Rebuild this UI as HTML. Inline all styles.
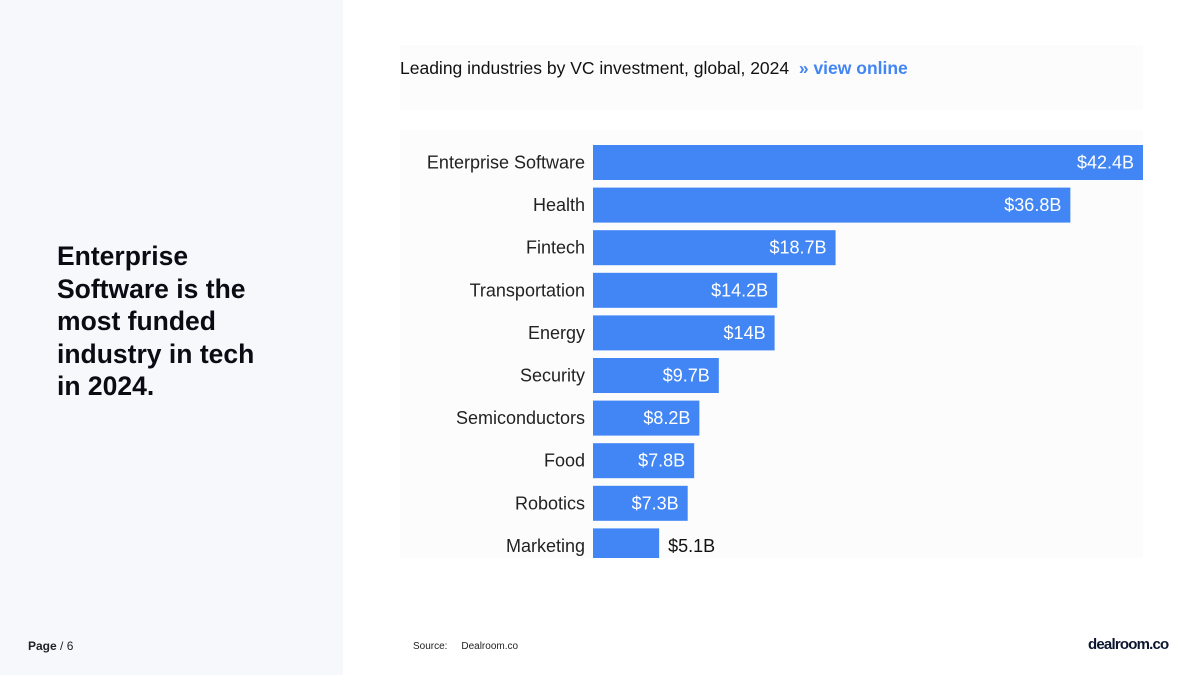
<!DOCTYPE html>
<html><head><meta charset="utf-8"><style>
body{margin:0;width:1200px;height:675px;position:relative;background:#fff;font-family:"Liberation Sans",sans-serif;overflow:hidden}
#left{position:absolute;left:0;top:0;width:343px;height:675px;background:#f7f8fc}
#headline{position:absolute;left:57px;top:240px;font-weight:bold;font-size:26.5px;line-height:32.5px;color:#0b0b14;width:215px}
#page{position:absolute;left:28px;top:639px;font-size:12px;color:#222}
#titlebg{position:absolute;left:400px;top:45px;width:743px;height:65px;background:#fcfcfd}
#chartbg{position:absolute;left:400px;top:130px;width:743px;height:428px;background:#fcfcfd}
#title{position:absolute;left:400px;top:58px;font-size:17.5px;color:#111}
#title b{color:#4285f4}
#source{position:absolute;left:413px;top:641px;font-size:10px;color:#222}
#logo{position:absolute;left:1088px;top:636px;font-size:15px;font-weight:bold;color:#0c1630;letter-spacing:-0.8px}
</style></head><body>
<div id="left"></div>
<div id="headline">Enterprise Software is the most funded industry in tech in 2024.</div>
<div id="page"><b>Page</b> / 6</div>
<div id="titlebg"></div>
<div id="chartbg"></div>
<div id="title">Leading industries by VC investment, global, 2024 &nbsp;<b>» view online</b></div>
<svg id="chart" width="1200" height="675" style="position:absolute;left:0;top:0">
<defs><clipPath id="clip"><rect x="400" y="130" width="743" height="428"/></clipPath></defs>
<g id="bars" clip-path="url(#clip)"></g>
</svg>
<div id="source">Source:&nbsp;&nbsp;&nbsp;&nbsp; Dealroom.co</div>
<div id="logo">dealroom.co</div>
<script>
const categories=["Enterprise Software","Health","Fintech","Transportation","Energy","Security","Semiconductors","Food","Robotics","Marketing"];
const values=[42.4,36.8,18.7,14.2,14,9.7,8.2,7.8,7.3,5.1];
const valueLabels=["$42.4B","$36.8B","$18.7B","$14.2B","$14B","$9.7B","$8.2B","$7.8B","$7.3B","$5.1B"];
const svg=document.getElementById('bars');
const NS='http://www.w3.org/2000/svg';
const x0=593,xMax=1143,maxV=42.4;
const xs=v=>x0+(v/maxV)*(xMax-x0);
const yTop=145,step=42.6,bh=35;
const ys=i=>yTop+i*step;
categories.forEach((c,i)=>{
  const y=ys(i),w=xs(values[i])-x0;
  const r=document.createElementNS(NS,'rect');
  r.setAttribute('x',x0);r.setAttribute('y',y);r.setAttribute('width',w);r.setAttribute('height',bh);r.setAttribute('fill','#4285f4');
  
  
  svg.appendChild(r);
  const t=document.createElementNS(NS,'text');
  t.setAttribute('x',585);t.setAttribute('y',y+bh/2+6);t.setAttribute('text-anchor','end');
  t.setAttribute('font-size','18');t.setAttribute('fill','#222');t.textContent=c;
  
  
  svg.appendChild(t);
  const v=document.createElementNS(NS,'text');
  const inside=w>80;
  v.setAttribute('x',inside?x0+w-9:x0+w+9);v.setAttribute('y',y+bh/2+6);
  v.setAttribute('text-anchor',inside?'end':'start');
  v.setAttribute('font-size','18');v.setAttribute('fill',inside?'#fff':'#111');v.textContent=valueLabels[i];
  
  
  svg.appendChild(v);
});
</script>
</body></html>
